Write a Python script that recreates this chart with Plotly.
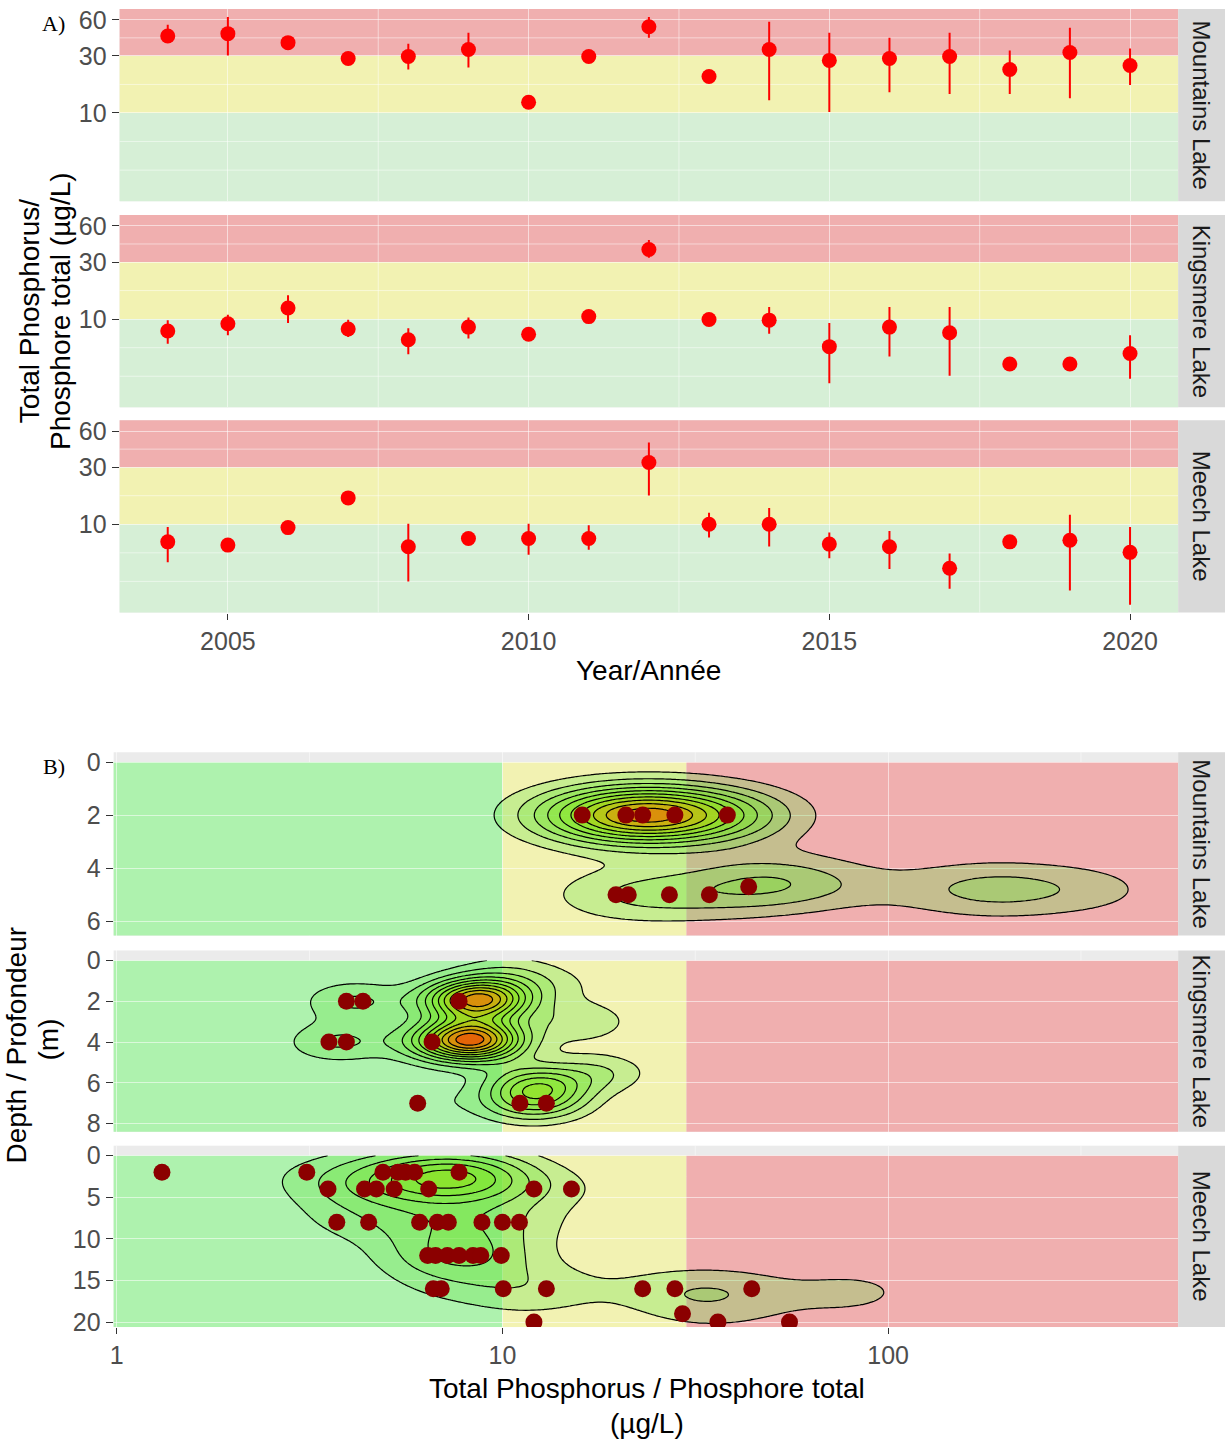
import numpy as np
import plotly.graph_objects as go

W, H = 1225, 1452

# ---------------- Panel A : annual total phosphorus (µg/L) ----------------
years = list(range(2004, 2021))
lake_names = ["Mountains Lake", "Kingsmere Lake", "Meech Lake"]

mountains_mean  = [44.0, 46.0, 38.7, 28.5, 29.6, 33.9, 12.3, 29.6, 52.5, 20.2, 33.9, 27.5, 28.5, 29.6, 23.1, 32.0, 24.9]
mountains_upper = [54.6, 63.5, 38.7, 28.5, 37.9, 46.8, 12.3, 29.6, 63.5, 20.2, 57.7, 46.8, 42.6, 46.8, 33.2, 51.5, 34.5]
mountains_lower = [38.7, 30.2, 38.7, 28.5, 23.1, 24.0, 12.3, 29.6, 42.6, 20.2, 12.8, 10.2, 14.9, 14.4, 14.4, 13.3, 17.1]

kingsmere_mean  = [7.95, 9.15, 12.4, 8.26, 6.73, 8.58, 7.47, 10.5, 38.2, 9.94, 9.8, 5.89, 8.58, 7.7, 4.22, 4.22, 5.16]
kingsmere_upper = [9.8, 10.9, 15.8, 9.9, 8.37, 10.3, 7.47, 10.5, 45.7, 9.94, 12.6, 9.3, 12.6, 12.6, 4.22, 4.22, 7.33]
kingsmere_lower = [6.24, 7.33, 9.3, 7.1, 5.1, 6.9, 7.47, 10.5, 32.6, 9.94, 7.55, 2.91, 4.87, 3.37, 4.22, 4.22, 3.17]

meech_mean  = [7.13, 6.7, 9.38, 16.6, 6.49, 7.6, 7.6, 7.6, 32.8, 10.0, 10.0, 6.83, 6.49, 4.29, 7.13, 7.36, 5.83]
meech_upper = [9.5, 6.7, 9.38, 16.6, 10.1, 7.6, 10.1, 9.8, 48.3, 12.5, 13.7, 8.53, 8.8, 5.71, 7.13, 12.0, 9.5]
meech_lower = [4.82, 6.7, 9.38, 16.6, 3.33, 7.6, 5.57, 6.12, 17.4, 7.76, 6.53, 5.2, 4.24, 2.9, 7.13, 2.8, 2.13]

year_ticks = [2005, 2010, 2015, 2020]
tpA_ticks = [10, 30, 60]
tp_thresholds = [10, 30]   # trophic class limits (µg/L)

# ---------------- Panel B : depth profiles ----------------
mountains_tp    = [16.1, 20.9, 23.1, 28.0, 38.3, 19.7, 21.2, 27.1, 34.4, 43.5]
mountains_depth = [2, 2, 2, 2, 2, 5, 5, 5, 5, 4.7]
mountains_count = [2, 3, 3, 3, 2.5, 0.7, 0.7, 0.6, 0.6, 1]
mountains_extra_tp    = [55, 100, 185, 330]
mountains_extra_depth = [4.5, 4.8, 4.8, 4.8]
mountains_extra_count = [1.8, 0.6, 2.0, 1.1]

kingsmere_tp    = [3.94, 4.35, 7.72, 3.55, 3.94, 6.57, 6.03, 11.1, 13.0]
kingsmere_depth = [2, 2, 2, 4, 4, 4, 7, 7, 7]
kingsmere_count = [1.2, 1.2, 2, 1.2, 1.2, 2, 1, 2, 2]
kingsmere_extra_tp    = [8.8, 8.4, 12.3, 16.0, 18.0, 14.0, 10.5]
kingsmere_extra_depth = [1.9, 3.9, 6.1, 3.0, 5.5, 1.2, 0.6]
kingsmere_extra_count = [10, 12, 5, 2, 2, 1, 1.5]

meech_tp = [1.31, 3.11, 4.90, 5.36, 5.61, 5.92, 7.72,
            3.53, 4.39, 4.71, 5.24, 6.44, 12.07, 15.1,
            3.72, 4.50, 6.10, 6.78, 7.24, 8.85, 10.0, 11.07,
            6.40, 6.71, 7.20, 7.72, 8.39, 8.79, 9.93,
            6.62, 6.94, 10.05, 13.0, 23.1, 28.0, 44.3,
            29.3,
            12.07, 36.2, 55.5]
meech_depth = [2]*7 + [4]*7 + [8]*8 + [12]*7 + [16]*7 + [19] + [20]*3
meech_count = [1]*29 + [0.6, 0.6, 1, 1, 1, 1, 1] + [0.8] + [0.5, 0.6, 0.6]
meech_extra_tp    = [7.8, 8.5, 12.0, 36.0, 82.0]
meech_extra_depth = [2.5, 3.0, 16.0, 16.5, 16.4]
meech_extra_count = [7, 3, 1.5, 2.3, 2.6]

# relative peak density of each lake (share of the common contour scale)
peak_density = [0.9, 1.0, 0.56]

tpB_ticks = [1, 10, 100]
depth_ticks = [[0, 2, 4, 6], [0, 2, 4, 6, 8], [0, 5, 10, 15, 20]]
depth_minor = [[1, 3, 5], [1, 3, 5, 7], [2.5, 7.5, 12.5, 17.5]]
depth_ranges = [[6.54, -0.37], [8.4, -0.49], [20.6, -1.19]]
kde_bw = [(0.15, 0.75), (0.09, 0.7), (0.13, 2.2)]

# ---------------- styling ----------------
FONT = "Liberation Sans, Arial, sans-serif"
TICKC = "#4D4D4D"
GRID = "rgba(255,255,255,0.55)"
C_GRN_A = "#D6EFD6"
C_GRN_B = "#AEF2AE"
C_RED_S = "#F0AFAF"
C_YEL_S = "#F2F2B2"
FILL_ALPHA = 0.3
RAMP = [(0.0, (100, 225, 70)), (0.45, (140, 232, 20)), (0.65, (222, 180, 0)),
        (0.85, (255, 105, 0)), (1.0, (255, 0, 0))]

A_x = (116, 1178)
A_rows = [(5, 199), (213, 407), (420, 614)]
B_x = (110, 1178)
B_rows = [(755, 940), (955, 1138), (1152, 1335)]
A_yrange = [0.263, 1.869]
B_xrange = [-0.008, 2.752]


def px(x):
    return x / W


def py(y):
    return 1 - y / H


fig = go.Figure()
layout = {}
shapes = []
annotations = []


def strip(i, top, bot):
    shapes.append(dict(type="rect", xref="paper", yref="paper", x0=px(1178), x1=1,
                       y0=py(bot), y1=py(top), fillcolor="#D9D9D9", line_width=0))
    annotations.append(dict(x=px(1201.5), y=py((top + bot) / 2), xref="paper", yref="paper",
                            xanchor="center", yanchor="middle",
                            text=lake_names[i], textangle=90, showarrow=False,
                            font=dict(size=24, color="#1A1A1A", family=FONT)))


def tickfont():
    return dict(size=25, color=TICKC, family=FONT)


# ---------- Panel A ----------
A_data = [(mountains_mean, mountains_upper, mountains_lower),
          (kingsmere_mean, kingsmere_upper, kingsmere_lower),
          (meech_mean, meech_upper, meech_lower)]
for i, (m, u, l) in enumerate(A_data):
    k = i + 1
    xa, ya = ("x" if k == 1 else f"x{k}"), ("y" if k == 1 else f"y{k}")
    fig.add_trace(go.Scatter(
        x=years, y=m, mode="markers", xaxis=xa, yaxis=ya,
        marker=dict(color="red", size=15),
        error_y=dict(type="data", symmetric=False,
                     array=[a - b for a, b in zip(u, m)],
                     arrayminus=[b - c for b, c in zip(m, l)],
                     color="red", thickness=2, width=0),
        hoverinfo="skip"))
    top, bot = A_rows[i]
    layout["xaxis" if k == 1 else f"xaxis{k}"] = dict(
        domain=[px(A_x[0]), px(A_x[1])], range=[2003.2, 2020.8],
        tickvals=year_ticks, ticktext=[str(v) for v in year_ticks],
        showgrid=True, gridcolor=GRID, gridwidth=1.3, zeroline=False,
        showticklabels=(i == 2), ticks="outside" if i == 2 else "",
        ticklen=6, tickcolor="#333333", tickfont=tickfont(), anchor=ya)
    layout["yaxis" if k == 1 else f"yaxis{k}"] = dict(
        domain=[py(bot), py(top)], type="log", range=A_yrange,
        tickvals=tpA_ticks, ticktext=[str(v) for v in tpA_ticks],
        showgrid=True, gridcolor=GRID, gridwidth=1.3, zeroline=False,
        ticks="outside", ticklen=7, tickcolor="#333333", tickfont=tickfont(), anchor=xa)
    for y0, y1, col in [(0.01, tp_thresholds[0], C_GRN_A),
                        (tp_thresholds[0], tp_thresholds[1], C_YEL_S),
                        (tp_thresholds[1], 1e4, C_RED_S)]:
        shapes.append(dict(type="rect", xref=f"{xa} domain", yref=ya, x0=0, x1=1,
                           y0=y0, y1=y1, fillcolor=col, line_width=0, layer="below"))
    for v in [3.333, 5.774, 17.32, 42.43]:
        shapes.append(dict(type="line", xref=f"{xa} domain", yref=ya, x0=0, x1=1, y0=v, y1=v,
                           line=dict(color=GRID, width=0.9), layer="below"))
    for v in [2007.5, 2012.5, 2017.5]:
        shapes.append(dict(type="line", xref=xa, yref=f"{ya} domain", x0=v, x1=v, y0=0, y1=1,
                           line=dict(color=GRID, width=0.9), layer="below"))
    strip(i, top, bot)


def ramp(t, alpha):
    for (t0, c0), (t1, c1) in zip(RAMP[:-1], RAMP[1:]):
        if t <= t1:
            f = (t - t0) / (t1 - t0)
            r, g, b = [a + (bb - a) * f for a, bb in zip(c0, c1)]
            return f"rgba({r:.0f},{g:.0f},{b:.0f},{alpha})"
    r, g, b = RAMP[-1][1]
    return f"rgba({r},{g},{b},{alpha})"


# ---------- Panel B densities ----------
B_samples = [
    (mountains_tp + mountains_extra_tp, mountains_depth + mountains_extra_depth,
     mountains_count + mountains_extra_count),
    (kingsmere_tp + kingsmere_extra_tp, kingsmere_depth + kingsmere_extra_depth,
     kingsmere_count + kingsmere_extra_count),
    (meech_tp + meech_extra_tp, meech_depth + meech_extra_depth,
     meech_count + meech_extra_count),
]
B_dots = [(mountains_tp, mountains_depth), (kingsmere_tp, kingsmere_depth), (meech_tp, meech_depth)]

N_LEVELS = 11
step = 1.0 / 11.8
levels = [step * k for k in range(1, N_LEVELS + 1)]

for i in range(3):
    k = i + 4
    xa, ya = f"x{k}", f"y{k}"
    top, bot = B_rows[i]
    layout[f"xaxis{k}"] = dict(
        domain=[px(B_x[0]), px(B_x[1])], type="log", range=B_xrange,
        tickvals=tpB_ticks, ticktext=[str(v) for v in tpB_ticks],
        showgrid=True, gridcolor=GRID, gridwidth=1.3, zeroline=False,
        showticklabels=(i == 2), ticks="outside" if i == 2 else "",
        ticklen=6, tickcolor="#333333", tickfont=tickfont(), anchor=ya)
    layout[f"yaxis{k}"] = dict(
        domain=[py(bot), py(top)], range=depth_ranges[i],
        tickvals=depth_ticks[i], ticktext=[str(v) for v in depth_ticks[i]],
        showgrid=True, gridcolor=GRID, gridwidth=1.3, zeroline=False,
        ticks="outside", ticklen=7, tickcolor="#333333", tickfont=tickfont(), anchor=xa)
    for x0, x1, col in [(0.01, tp_thresholds[0], C_GRN_B),
                        (tp_thresholds[0], tp_thresholds[1], C_YEL_S),
                        (tp_thresholds[1], 1e5, C_RED_S)]:
        shapes.append(dict(type="rect", xref=xa, yref=ya, x0=x0, x1=x1, y0=0, y1=1e3,
                           fillcolor=col, line_width=0, layer="below"))
    for v in depth_minor[i]:
        shapes.append(dict(type="line", xref=f"{xa} domain", yref=ya, x0=0, x1=1, y0=v, y1=v,
                           line=dict(color=GRID, width=0.9), layer="below"))
    for v in [3.1623, 31.623, 316.23]:
        shapes.append(dict(type="line", xref=xa, yref=f"{ya} domain", x0=v, x1=v, y0=0, y1=1,
                           line=dict(color=GRID, width=0.9), layer="below"))
    strip(i, top, bot)

    # 2-D Gaussian kernel density in (log10 TP, depth) space
    tp, dep, wt = B_samples[i]
    hu, hd = kde_bw[i]
    ug = np.linspace(B_xrange[0], B_xrange[1], 280)
    dg = np.linspace(0, depth_ranges[i][0], 180)
    U, D = np.meshgrid(ug, dg)
    z = np.zeros_like(U)
    for t, d, w in zip(tp, dep, wt):
        z += w * np.exp(-0.5 * ((U - np.log10(t)) / hu) ** 2 - 0.5 * ((D - d) / hd) ** 2)
    z = z / z.max() * peak_density[i]

    for li, L in enumerate(levels):
        if L >= z.max():
            break
        fig.add_trace(go.Contour(
            x=10 ** ug, y=dg, z=z, xaxis=xa, yaxis=ya, showscale=False, hoverinfo="skip",
            contours=dict(type="constraint", operation="<", value=L),
            fillcolor=ramp(li / (N_LEVELS - 1), FILL_ALPHA),
            line=dict(color="black", width=1.2, smoothing=1)))
    dtp, ddep = B_dots[i]
    fig.add_trace(go.Scatter(x=dtp, y=ddep, mode="markers", xaxis=xa, yaxis=ya,
                             marker=dict(color="#8B0000", size=17), hoverinfo="skip"))


# ---------- titles ----------
def ann(x, y, text, size=28, angle=0, family=FONT, color="black"):
    annotations.append(dict(x=px(x), y=py(y), xref="paper", yref="paper", text=text,
                            textangle=angle, showarrow=False, xanchor="center", yanchor="middle",
                            font=dict(size=size, color=color, family=family)))


ann(25, 310, "Total Phosphorus/", angle=-90)
ann(56, 310, "Phosphore total (µg/L)", angle=-90)
ann(647, 673, "Year/Année")
ann(13, 1050, "Depth / Profondeur", angle=-90)
ann(45, 1045, "(m)", angle=-90)
ann(645, 1397, "Total Phosphorus / Phosphore total")
ann(645, 1432, "(µg/L)")
ann(50, 20, "A)", size=22, family="Liberation Serif, Times New Roman, serif")
ann(50, 769, "B)", size=22, family="Liberation Serif, Times New Roman, serif")

fig.update_layout(width=W, height=H, margin=dict(l=0, r=0, t=0, b=0),
                  paper_bgcolor="white", plot_bgcolor="#EBEBEB", showlegend=False,
                  hovermode=False, shapes=shapes, annotations=annotations,
                  font=dict(family=FONT), **layout)
fig.write_html("out.html")
